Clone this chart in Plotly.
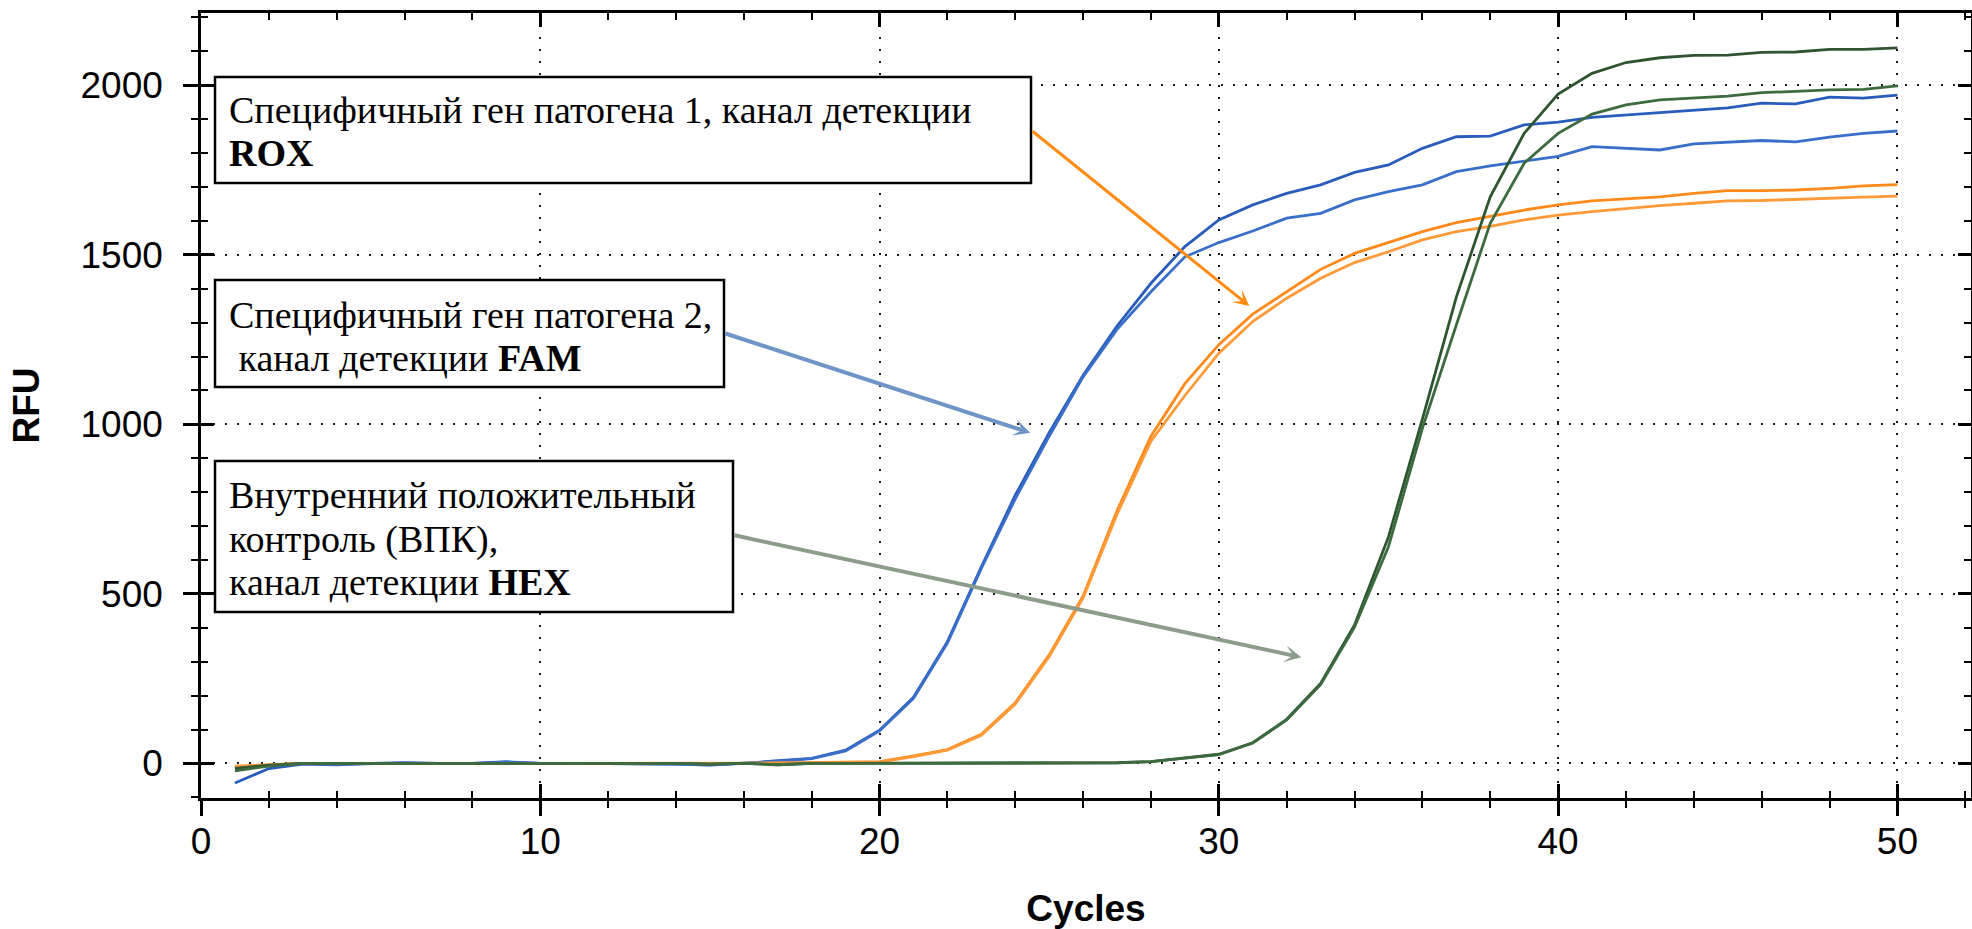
import plotly.graph_objects as go

# ---------------- data ----------------
cycles = list(range(1, 51))

fam_a = [-58, -15, -2, -4, 0, 2, 0, 0, 4, 0,
         0, 0, -1, -2, -5, 0, 8, 15, 39, 98,
         195, 359, 580, 791, 975, 1145, 1290, 1416, 1524, 1603,
         1647, 1681, 1706, 1743, 1765, 1814, 1848, 1850, 1883, 1891,
         1905, 1912, 1920, 1927, 1933, 1947, 1945, 1965, 1962, 1971]
fam_b = [-12, -5, 0, -3, 0, 1, 0, 0, 5, 0,
         0, 0, 0, -2, -4, 0, 6, 14, 37, 96,
         192, 355, 575, 780, 965, 1140, 1280, 1391, 1494, 1536,
         1570, 1608, 1622, 1662, 1686, 1706, 1745, 1762, 1775, 1790,
         1819, 1814, 1809, 1827, 1831, 1837, 1833, 1847, 1858, 1865]
rox_a = [-8, -3, 0, 0, 0, 2, 0, 0, 1, 0,
         0, 0, 0, 0, -1, 0, 0, 1, 2, 5,
         22, 41, 86, 179, 320, 494, 745, 965, 1120, 1235,
         1325, 1391, 1457, 1504, 1536, 1568, 1595, 1614, 1632, 1647,
         1659, 1665, 1671, 1681, 1689, 1689, 1691, 1696, 1703, 1707]
rox_b = [-10, -4, 0, 0, 0, 1, 0, 0, 1, 0,
         0, 0, 0, 0, -1, 0, 0, 1, 2, 4,
         20, 39, 83, 175, 315, 488, 735, 950, 1085, 1210,
         1303, 1372, 1431, 1477, 1509, 1544, 1568, 1584, 1603, 1617,
         1627, 1637, 1645, 1652, 1659, 1660, 1664, 1668, 1670, 1673]
hex_a = [-15, -5, 0, 0, 0, 1, 0, 0, 0, 0,
         0, 0, 0, 0, -2, 0, -4, 0, 0, 0,
         0, 0, 0, 0, 0, 0, 2, 5, 15, 27,
         61, 130, 236, 408, 668, 1015, 1375, 1671, 1858, 1974,
         2035, 2067, 2081, 2088, 2089, 2097, 2098, 2106, 2106, 2110]
hex_b = [-22, -8, 0, 0, 0, 1, 0, 0, 0, 0,
         0, 0, 0, 0, -2, 0, -4, 0, 0, 0,
         0, 0, 0, 0, 0, 0, 2, 5, 15, 26,
         60, 128, 232, 402, 639, 988, 1293, 1593, 1770, 1858,
         1915, 1942, 1957, 1962, 1968, 1978, 1983, 1986, 1988, 1998]

series = [
    ("FAM 1", fam_a, "#2a5cbb"),
    ("FAM 2", fam_b, "#3a6fc9"),
    ("ROX 1", rox_a, "#ff8a1c"),
    ("ROX 2", rox_b, "#ff9a38"),
    ("HEX 1", hex_a, "#2e5530"),
    ("HEX 2", hex_b, "#3d6b3f"),
]

x_major = [0, 10, 20, 30, 40, 50]
y_major = [0, 500, 1000, 1500, 2000]
x_range = [0, 52.17]
y_range = [-102, 2213]

box_lines = [
    ["Специфичный ген патогена 1, канал детекции", "<b>ROX</b>"],
    ["Специфичный ген патогена 2,", "\u00a0канал детекции <b>FAM</b>"],
    ["Внутренний положительный", "контроль (ВПК),", "канал детекции <b>HEX</b>"],
]
# arrow heads (data coords) for the three callouts
arrow_heads = [(30.9, 1349), (24.44, 975), (32.43, 313)]

# ---------------- layout geometry (pixels) ----------------
W, H = 1972, 929
ML, MR, MT, MB = 201, 1, 13, 131
PW, PH = W - ML - MR, H - MT - MB


def px(p):
    return (p - ML) / PW


def py(p):
    return 1 - (p - MT) / PH


fig = go.Figure()
for name, vals, col in series:
    fig.add_trace(go.Scatter(x=cycles, y=vals, mode="lines", name=name,
                             line=dict(color=col, width=2.8), showlegend=False))

# helper invisible traces so the overlay axes (crossing / mirrored ticks) are drawn
for xa, ya in [("x2", "y"), ("x3", "y"), ("x", "y2"), ("x", "y3")]:
    fig.add_trace(go.Scatter(x=[None], y=[None], xaxis=xa, yaxis=ya,
                             showlegend=False, hoverinfo="skip"))

tick_font = dict(family="Liberation Sans, Arial, sans-serif", size=37, color="black")
title_font = dict(family="Liberation Sans, Arial, sans-serif", size=37, color="black")
grid = dict(showgrid=True, gridcolor="#1a1a1a", gridwidth=2, griddash="2px,10px")

fig.update_layout(
    width=W, height=H,
    margin=dict(l=ML, r=MR, t=MT, b=MB, pad=0),
    paper_bgcolor="white", plot_bgcolor="white",
    xaxis=dict(range=x_range, tickvals=x_major, ticks="outside", ticklen=15, tickwidth=2.5,
               tickcolor="black", showline=True, linecolor="black", linewidth=2.5,
               zeroline=False, tickfont=tick_font, ticklabelstandoff=-6,
               minor=dict(dtick=2, tick0=0, ticks="outside", ticklen=7, tickwidth=2,
                          tickcolor="black", showgrid=False),
               title=dict(text="<b>Cycles</b>", font=title_font, standoff=36),
               automargin=False, **grid),
    yaxis=dict(range=y_range, tickvals=y_major, ticks="outside", ticklen=15, tickwidth=2.5,
               tickcolor="black", showline=True, linecolor="black", linewidth=2.5,
               zeroline=False, tickfont=tick_font, ticklabelstandoff=13,
               minor=dict(dtick=100, tick0=0, ticks="outside", ticklen=7, tickwidth=2,
                          tickcolor="black", showgrid=False),
               title=dict(text="<b>RFU</b>", font=title_font, standoff=30),
               automargin=False, **grid),
    xaxis2=dict(overlaying="x", anchor="y", side="bottom", range=x_range, tickvals=x_major,
                ticks="inside", ticklen=14, tickwidth=2.5, tickcolor="black",
                showticklabels=False, showgrid=False, zeroline=False, showline=False,
                minor=dict(dtick=2, tick0=0, ticks="inside", ticklen=7, tickwidth=2,
                           tickcolor="black", showgrid=False)),
    xaxis3=dict(overlaying="x", anchor="y", side="top", range=x_range, tickvals=x_major,
                ticks="inside", ticklen=14, tickwidth=2.5, tickcolor="black",
                showticklabels=False, showgrid=False, zeroline=False, showline=True,
                linecolor="black", linewidth=2.5,
                minor=dict(dtick=2, tick0=0, ticks="inside", ticklen=7, tickwidth=2,
                           tickcolor="black", showgrid=False)),
    yaxis2=dict(overlaying="y", anchor="x", side="left", range=y_range, tickvals=y_major,
                ticks="inside", ticklen=13, tickwidth=2.5, tickcolor="black",
                showticklabels=False, showgrid=False, zeroline=False, showline=False,
                minor=dict(dtick=100, tick0=0, ticks="inside", ticklen=7, tickwidth=2,
                           tickcolor="black", showgrid=False)),
    yaxis3=dict(overlaying="y", anchor="x", side="right", range=y_range, tickvals=y_major,
                ticks="inside", ticklen=13, tickwidth=2.5, tickcolor="black",
                showticklabels=False, showgrid=False, zeroline=False, showline=True,
                linecolor="black", linewidth=2.5,
                minor=dict(dtick=100, tick0=0, ticks="inside", ticklen=7, tickwidth=2,
                           tickcolor="black", showgrid=False)),
)

# ---------------- callout boxes ----------------
boxes = [  # (left, top, right, bottom) in pixels
    (215, 77, 1031, 183),
    (215, 280, 724, 387),
    (215, 461, 733, 612),
]
line_centres = [[110, 153], [315, 358], [495, 539, 582]]
serif = dict(family="Liberation Serif, Times New Roman, serif", size=38, color="black")
for (l, t, r, b), lines, centres in zip(boxes, box_lines, line_centres):
    fig.add_shape(type="rect", xref="paper", yref="paper",
                  x0=px(l), x1=px(r), y0=py(b), y1=py(t),
                  line=dict(color="black", width=2.5), fillcolor="white", layer="above")
    for txt, cy in zip(lines, centres):
        fig.add_annotation(xref="paper", yref="paper", x=px(l + 12), y=py(cy),
                           xanchor="left", yanchor="middle", align="left",
                           showarrow=False, text=txt, font=serif)

# ---------------- arrows ----------------
arrow_tails = [(1031, 130), (724, 333), (733, 535)]  # pixel positions on box edges
arrow_style = [("#ff8c10", 3, 0.9), ("#6f95c6", 4, 0.7), ("#8c9e8a", 4, 0.7)]
for (hx, hy), (tx, ty), (col, wdt, sz) in zip(arrow_heads, arrow_tails, arrow_style):
    hpx = ML + (hx - x_range[0]) / (x_range[1] - x_range[0]) * PW
    hpy = MT + (y_range[1] - hy) / (y_range[1] - y_range[0]) * PH
    fig.add_annotation(x=hx, y=hy, xref="x", yref="y", ax=tx - hpx, ay=ty - hpy,
                       axref="pixel", ayref="pixel", text="", showarrow=True,
                       arrowhead=3, arrowsize=sz, arrowwidth=wdt, arrowcolor=col,
                       standoff=0, startstandoff=0)

fig.write_html("out.html",
               config={"displayModeBar": False},
               post_script="document.body.style.margin='0';"
                           "document.body.style.overflow='hidden';")
